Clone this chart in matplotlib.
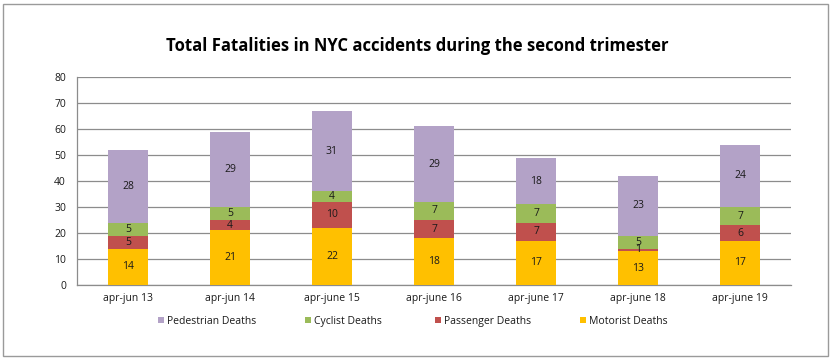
import matplotlib
matplotlib.use("Agg")
import matplotlib.pyplot as plt
from matplotlib.patches import Rectangle
import numpy as np

categories = ["apr-jun 13", "apr-jun 14", "apr-june 15", "apr-june 16", "apr-june 17", "apr-june 18", "apr-june 19"]
motorist = [14, 21, 22, 18, 17, 13, 17]
passenger = [5, 4, 10, 7, 7, 1, 6]
cyclist = [5, 5, 4, 7, 7, 5, 7]
pedestrian = [28, 29, 31, 29, 18, 23, 24]

series = [
    ("Motorist Deaths", motorist, "#FFC000"),
    ("Passenger Deaths", passenger, "#C0504D"),
    ("Cyclist Deaths", cyclist, "#9BBB59"),
    ("Pedestrian Deaths", pedestrian, "#B3A2C7"),
]

plt.rcParams['font.family'] = ['Open Sans', 'DejaVu Sans']

W, H = 834, 364
fig = plt.figure(figsize=(W / 100, H / 100), dpi=100)
fig.patch.set_facecolor("white")
fig.add_artist(Rectangle((3 / W, 8 / H), 825 / W, 352 / H, transform=fig.transFigure,
                         fill=False, edgecolor="#9A9A9A", linewidth=1.0))

ax = fig.add_axes([77 / W, 79 / H, 714 / W, 208 / H])
x = np.arange(len(categories))
bottom = np.zeros(len(categories))
colors = {}
for name, vals, color in series:
    v = np.array(vals, dtype=float)
    ax.bar(x, v, width=0.4, bottom=bottom, color=color, label=name, zorder=3)
    colors[name] = color
    for xi, bi, vi in zip(x, bottom, v):
        ax.text(xi, bi + vi / 2, f"{int(vi)}", ha="center", va="center", fontsize=7.5,
                color="#1a1a1a", zorder=4)
    bottom += v

ax.set_xlim(-0.5, len(categories) - 0.5)
ax.set_ylim(0, 80)
ax.set_yticks(range(0, 81, 10))
ax.yaxis.grid(True, color="#8C8C8C", linewidth=0.9, zorder=0)
ax.set_axisbelow(True)
ax.set_xticks(x)
ax.set_xticklabels(categories)
ax.tick_params(axis="both", labelsize=7.5, colors="#1a1a1a", length=0)
ax.tick_params(axis="y", pad=8)
ax.tick_params(axis="x", pad=6)
for s in ["top", "right"]:
    ax.spines[s].set_visible(False)
for s in ["left", "bottom"]:
    ax.spines[s].set_color("#8C8C8C")
    ax.spines[s].set_linewidth(0.9)

fig.text(0.5, 1 - 46 / H, "Total Fatalities in NYC accidents during the second trimester",
         ha="center", va="center", fontsize=12, fontweight="bold", color="#000000")

# legend drawn manually so all labels share one baseline
order = ["Pedestrian Deaths", "Cyclist Deaths", "Passenger Deaths", "Motorist Deaths"]
leg_x = [158, 305, 435, 580]
leg_y = 320
sq = 6
for n, lx in zip(order, leg_x):
    fig.add_artist(Rectangle((lx / W, (H - leg_y - sq / 2) / H), sq / W, sq / H,
                             transform=fig.transFigure, facecolor=colors[n], edgecolor="none"))
    fig.text((lx + sq + 3) / W, (H - leg_y) / H, n, ha="left", va="center_baseline",
             fontsize=7.5, color="#1a1a1a")

fig.savefig("out.png", dpi=100)
